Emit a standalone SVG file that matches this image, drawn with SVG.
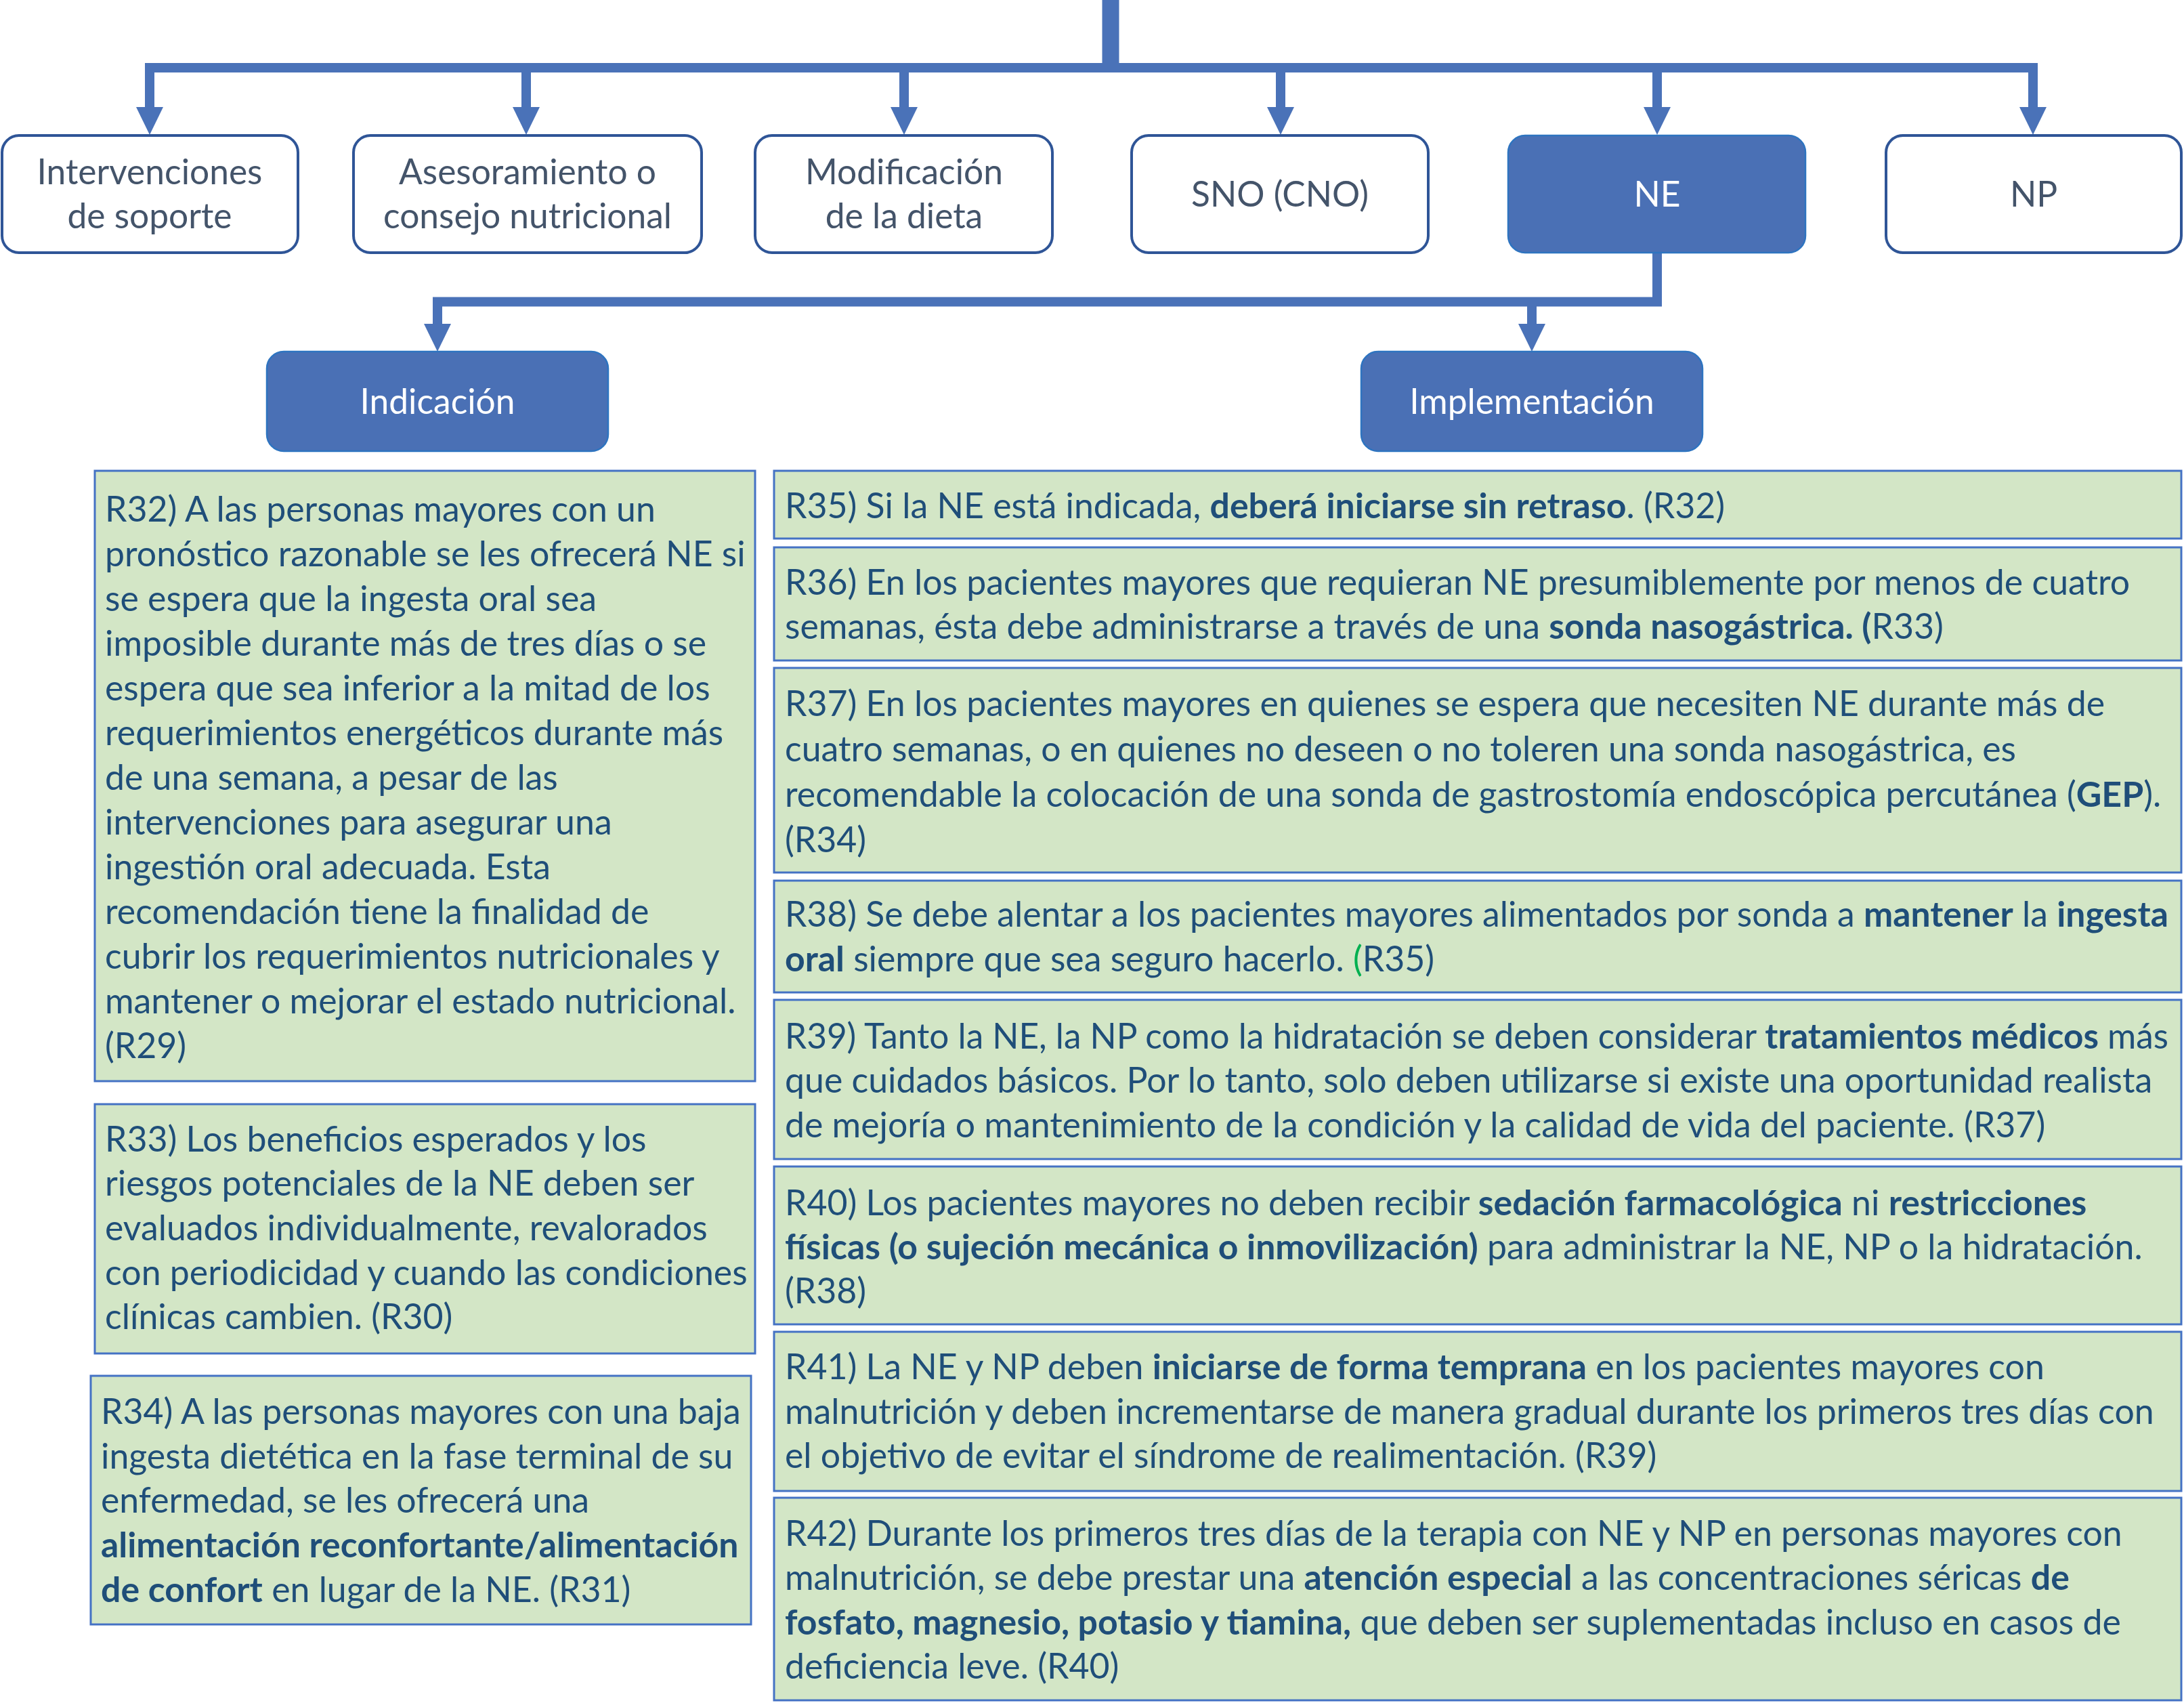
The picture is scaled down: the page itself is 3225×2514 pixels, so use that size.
<svg xmlns="http://www.w3.org/2000/svg" width="3225" height="2514" viewBox="0 0 3225 2514">
<style>
.wbox{fill:#ffffff;stroke:#2F5597;stroke-width:4}
.bbox{fill:#4A70B5;stroke:#2E74C0;stroke-width:2.5}
.gbox{fill:#D3E6C6;stroke:#4472C4;stroke-width:3}
.lbl{font-family:Lato,"Open Sans","Liberation Sans",sans-serif;font-size:51.5px;fill:#44546A;text-anchor:middle}
.wl{fill:#ffffff}
.t{font-family:Lato,"Open Sans","Liberation Sans",sans-serif;font-size:51.8px;fill:#1F4E79}
.b{font-weight:700}
.gr{fill:#00B050}
.conn{fill:none;stroke:#4A72B8;stroke-width:14;stroke-linejoin:miter}
</style>
<defs>
<marker id="arr" viewBox="0 0 41 40" refX="0" refY="20" markerWidth="41" markerHeight="40" markerUnits="userSpaceOnUse" orient="auto">
<path d="M0,0 L41,20 L0,40 z" fill="#4A72B8"/>
</marker>
</defs>
<g id="connectors">
<line x1="1640" y1="0" x2="1640" y2="107" stroke="#4A72B8" stroke-width="25"/>
<path class="conn" d="M221,158 V100 H3002 V158" marker-end="url(#arr)"/>
<path class="conn" d="M221,100 V158" marker-end="url(#arr)"/>
<path class="conn" d="M777,100 V158" marker-end="url(#arr)"/>
<path class="conn" d="M1335,100 V158" marker-end="url(#arr)"/>
<path class="conn" d="M1891,100 V158" marker-end="url(#arr)"/>
<path class="conn" d="M2447,100 V158" marker-end="url(#arr)"/>
<path class="conn" d="M2447,373 V445.5 H646 V478" marker-end="url(#arr)"/>
<path class="conn" d="M2262,445.5 V478" marker-end="url(#arr)"/>
</g>
<g id="n-soporte"><rect class="wbox" x="3" y="200" width="437" height="173" rx="25"/><text class="lbl" x="221" y="272">Intervenciones</text><text class="lbl" x="221" y="337">de soporte</text></g>
<g id="n-asesoramiento"><rect class="wbox" x="522" y="200" width="514" height="173" rx="25"/><text class="lbl" x="779" y="272">Asesoramiento o</text><text class="lbl" x="779" y="337">consejo nutricional</text></g>
<g id="n-dieta"><rect class="wbox" x="1115" y="200" width="439" height="173" rx="25"/><text class="lbl" x="1335" y="272">Modificación</text><text class="lbl" x="1335" y="337">de la dieta</text></g>
<g id="n-sno"><rect class="wbox" x="1671" y="200" width="438" height="173" rx="25"/><text class="lbl" x="1890" y="305">SNO (CNO)</text></g>
<g id="n-ne"><rect class="bbox" x="2227" y="200" width="439" height="173" rx="25"/><text class="lbl wl" x="2447" y="305">NE</text></g>
<g id="n-np"><rect class="wbox" x="2785" y="200" width="436" height="173" rx="25"/><text class="lbl" x="3003" y="305">NP</text></g>
<g id="n-indicacion"><rect class="bbox" x="394" y="519" width="504" height="147" rx="25"/><text class="lbl wl" x="646" y="611">Indicación</text></g>
<g id="n-implementacion"><rect class="bbox" x="2010" y="519" width="504" height="147" rx="25"/><text class="lbl wl" x="2262" y="611">Implementación</text></g>
<g id="r32"><rect class="gbox" x="140" y="695" width="975" height="901"/>
<text class="t" x="155" y="770">R32) A las personas mayores con un</text>
<text class="t" x="155" y="836">pronóstico razonable se les ofrecerá NE si</text>
<text class="t" x="155" y="902">se espera que la ingesta oral sea</text>
<text class="t" x="155" y="968">imposible durante más de tres días o se</text>
<text class="t" x="155" y="1034">espera que sea inferior a la mitad de los</text>
<text class="t" x="155" y="1100">requerimientos energéticos durante más</text>
<text class="t" x="155" y="1166">de una semana, a pesar de las</text>
<text class="t" x="155" y="1232">intervenciones para asegurar una</text>
<text class="t" x="155" y="1298">ingestión oral adecuada. Esta</text>
<text class="t" x="155" y="1364">recomendación tiene la finalidad de</text>
<text class="t" x="155" y="1430">cubrir los requerimientos nutricionales y</text>
<text class="t" x="155" y="1496">mantener o mejorar el estado nutricional.</text>
<text class="t" x="155" y="1562">(R29)</text>
</g>
<g id="r33"><rect class="gbox" x="140" y="1630" width="975" height="368"/>
<text class="t" x="155" y="1700">R33) Los beneficios esperados y los</text>
<text class="t" x="155" y="1765">riesgos potenciales de la NE deben ser</text>
<text class="t" x="155" y="1831">evaluados individualmente, revalorados</text>
<text class="t" x="155" y="1897">con periodicidad y cuando las condiciones</text>
<text class="t" x="155" y="1962">clínicas cambien. (R30)</text>
</g>
<g id="r34"><rect class="gbox" x="134" y="2031" width="975" height="367"/>
<text class="t" x="149" y="2102">R34) A las personas mayores con una baja</text>
<text class="t" x="149" y="2168">ingesta dietética en la fase terminal de su</text>
<text class="t" x="149" y="2233">enfermedad, se les ofrecerá una</text>
<text class="t b" x="149" y="2299">alimentación reconfortante/alimentación</text>
<text class="t" x="149" y="2365"><tspan class="b">de confort</tspan> en lugar de la NE. (R31)</text>
</g>
<g id="r35"><rect class="gbox" x="1143" y="695" width="2078" height="100"/>
<text class="t" x="1159" y="765">R35) Si la NE está indicada, <tspan class="b">deberá iniciarse sin retraso</tspan>. (R32)</text>
</g>
<g id="r36"><rect class="gbox" x="1143" y="808" width="2078" height="167"/>
<text class="t" x="1159" y="878">R36) En los pacientes mayores que requieran NE presumiblemente por menos de cuatro</text>
<text class="t" x="1159" y="943">semanas, ésta debe administrarse a través de una <tspan class="b">sonda nasogástrica. (</tspan>R33)</text>
</g>
<g id="r37"><rect class="gbox" x="1143" y="986" width="2078" height="302"/>
<text class="t" x="1159" y="1057">R37) En los pacientes mayores en quienes se espera que necesiten NE durante más de</text>
<text class="t" x="1159" y="1124">cuatro semanas, o en quienes no deseen o no toleren una sonda nasogástrica, es</text>
<text class="t" x="1159" y="1191">recomendable la colocación de una sonda de gastrostomía endoscópica percutánea (<tspan class="b">GEP</tspan>).</text>
<text class="t" x="1159" y="1258">(R34)</text>
</g>
<g id="r38"><rect class="gbox" x="1143" y="1300" width="2078" height="165"/>
<text class="t" x="1159" y="1368" textLength="2043" lengthAdjust="spacingAndGlyphs">R38) Se debe alentar a los pacientes mayores alimentados por sonda a <tspan class="b">mantener</tspan> la <tspan class="b">ingesta</tspan></text>
<text class="t" x="1159" y="1434"><tspan class="b">oral</tspan> siempre que sea seguro hacerlo. <tspan class="gr">(</tspan>R35)</text>
</g>
<g id="r39"><rect class="gbox" x="1143" y="1476" width="2078" height="235"/>
<text class="t" x="1159" y="1548" textLength="2043" lengthAdjust="spacingAndGlyphs">R39) Tanto la NE, la NP como la hidratación se deben considerar <tspan class="b">tratamientos médicos</tspan> más</text>
<text class="t" x="1159" y="1613">que cuidados básicos. Por lo tanto, solo deben utilizarse si existe una oportunidad realista</text>
<text class="t" x="1159" y="1679">de mejoría o mantenimiento de la condición y la calidad de vida del paciente. (R37)</text>
</g>
<g id="r40"><rect class="gbox" x="1143" y="1722" width="2078" height="233"/>
<text class="t" x="1159" y="1794">R40) Los pacientes mayores no deben recibir <tspan class="b">sedación farmacológica</tspan> ni <tspan class="b">restricciones</tspan></text>
<text class="t" x="1159" y="1859"><tspan class="b">físicas (o sujeción mecánica o inmovilización)</tspan> para administrar la NE, NP o la hidratación.</text>
<text class="t" x="1159" y="1924">(R38)</text>
</g>
<g id="r41"><rect class="gbox" x="1143" y="1966" width="2078" height="235"/>
<text class="t" x="1159" y="2036">R41) La NE y NP deben <tspan class="b">iniciarse de forma temprana</tspan> en los pacientes mayores con</text>
<text class="t" x="1159" y="2102">malnutrición y deben incrementarse de manera gradual durante los primeros tres días con</text>
<text class="t" x="1159" y="2167">el objetivo de evitar el síndrome de realimentación. (R39)</text>
</g>
<g id="r42"><rect class="gbox" x="1143" y="2211" width="2078" height="299"/>
<text class="t" x="1159" y="2282">R42) Durante los primeros tres días de la terapia con NE y NP en personas mayores con</text>
<text class="t" x="1159" y="2347">malnutrición, se debe prestar una <tspan class="b">atención especial</tspan> a las concentraciones séricas <tspan class="b">de</tspan></text>
<text class="t" x="1159" y="2413"><tspan class="b">fosfato, magnesio, potasio y tiamina,</tspan> que deben ser suplementadas incluso en casos de</text>
<text class="t" x="1159" y="2478">deficiencia leve. (R40)</text>
</g>
</svg>
